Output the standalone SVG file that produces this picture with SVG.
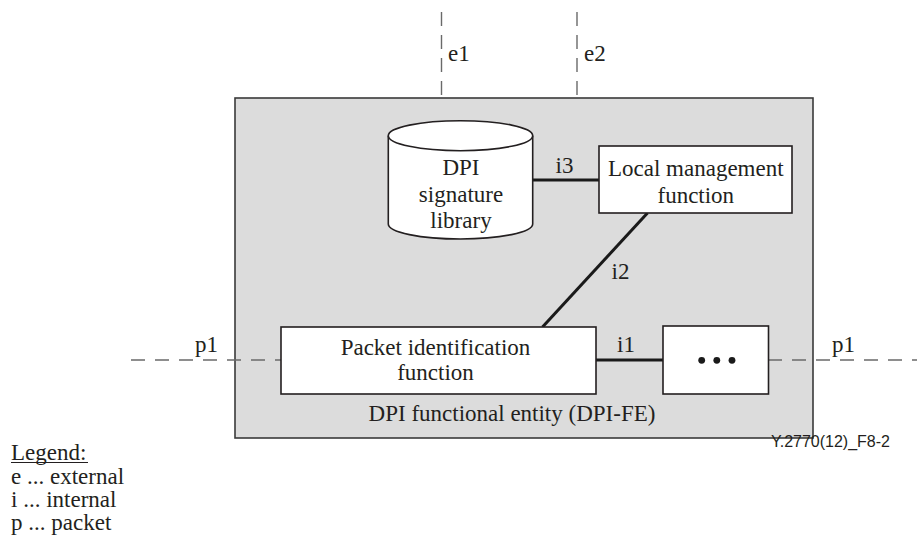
<svg xmlns="http://www.w3.org/2000/svg" width="917" height="542" viewBox="0 0 917 542">
  <style>
    .t { font-family: "Liberation Serif", "Times New Roman", serif; font-size: 23px; fill: #231f20; }
    .c { text-anchor: middle; }
    .box { fill: #ffffff; stroke: #231f20; stroke-width: 1.6; }
    .link { stroke: #1a1a1a; stroke-width: 3; fill: none; }
    .ref { stroke: #6a6a6a; stroke-width: 1.4; fill: none; }
    .refv { stroke-dasharray: 14 9; }
    .refh { stroke-dasharray: 14 10; }
  </style>

  <rect width="917" height="542" fill="#ffffff"/>

  <!-- DPI functional entity container -->
  <g id="dpi-fe">
    <rect x="235" y="98" width="578" height="340" fill="#dcdcdc" stroke="#3a3a3a" stroke-width="1.6"/>
    <text class="t c" x="512" y="421">DPI functional entity (DPI-FE)</text>
  </g>

  <!-- reference points and internal interfaces -->
  <g id="connectors">
    <line class="ref refv" x1="441.5" y1="12" x2="441.5" y2="98"/>
    <line class="ref refv" x1="577" y1="12" x2="577" y2="98"/>
    <line class="ref refh" x1="131" y1="360" x2="281" y2="360"/>
    <line class="ref refh" x1="768" y1="360" x2="917" y2="360"/>
    <line class="link" x1="532.5" y1="180" x2="599" y2="180"/>
    <line class="link" x1="647.5" y1="213" x2="542.5" y2="327"/>
    <line class="link" x1="596" y1="360" x2="663" y2="360"/>
    <text class="t" x="448" y="61">e1</text>
    <text class="t" x="584" y="61">e2</text>
    <text class="t c" x="564.5" y="173">i3</text>
    <text class="t c" x="620.5" y="279">i2</text>
    <text class="t c" x="626" y="351.5">i1</text>
    <text class="t" x="195" y="351.5">p1</text>
    <text class="t" x="832" y="351.5">p1</text>
  </g>

  <!-- DPI signature library (data store) -->
  <g id="signature-library">
    <path class="box" d="M388.3,135.7 L388.3,224 A72.2,15 0 0 0 532.7,224 L532.7,135.7"/>
    <ellipse class="box" cx="460.5" cy="135.7" rx="72.2" ry="15"/>
    <text class="t c" x="461" y="175">DPI</text>
    <text class="t c" x="461" y="201.5">signature</text>
    <text class="t c" x="461" y="228">library</text>
  </g>

  <!-- Local management function -->
  <g id="local-management">
    <rect class="box" x="599" y="146" width="193" height="67"/>
    <text class="t c" x="695.8" y="175.5">Local management</text>
    <text class="t c" x="695.8" y="203">function</text>
  </g>

  <!-- Packet identification function -->
  <g id="packet-identification">
    <rect class="box" x="281" y="327" width="315" height="67"/>
    <text class="t c" x="435.5" y="355">Packet identification</text>
    <text class="t c" x="435.5" y="380">function</text>
  </g>

  <!-- further functions -->
  <g id="further-functions">
    <rect class="box" x="663" y="326" width="105.5" height="68"/>
    <circle cx="701.7" cy="360.3" r="3.4" fill="#1a1a1a"/>
    <circle cx="716.8" cy="360.3" r="3.4" fill="#1a1a1a"/>
    <circle cx="732" cy="360.3" r="3.4" fill="#1a1a1a"/>
  </g>

  <!-- figure number -->
  <text x="890" y="446.5" text-anchor="end" font-family="'Liberation Sans', Arial, sans-serif" font-size="16" fill="#231f20">Y.2770(12)_F8-2</text>

  <!-- legend -->
  <g id="legend">
    <text class="t" x="11" y="460">Legend:</text>
    <line x1="11" y1="462.5" x2="88" y2="462.5" stroke="#231f20" stroke-width="1"/>
    <text class="t" x="11" y="483.5">e ... external</text>
    <text class="t" x="11" y="507">i ... internal</text>
    <text class="t" x="11" y="530">p ... packet</text>
  </g>
</svg>
